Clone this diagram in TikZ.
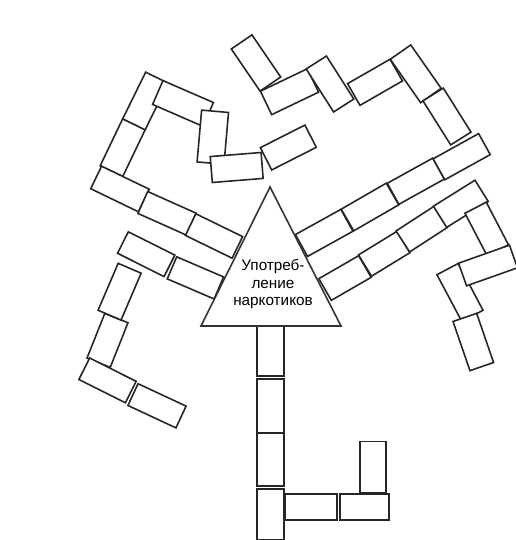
\documentclass[tikz,border=0pt]{standalone}
\usepackage{fontspec}
\newfontfamily\labelfont{Liberation Sans}
\tikzset{
  brick/.style={draw=black!85, fill=white, line width=0.9pt, inner sep=0pt},
  trunk/.style={brick, line width=1pt}
}

\begin{document}
\begin{tikzpicture}[x=0.02cm, y=-0.02cm]
  \useasboundingbox (0,0) rectangle (516,540);
  % left upper branch (name/x/y/angle/length/width, in px)
  \foreach \n/\x/\y/\a/\l/\w in {l0/122.7/147.7/64.4/52/25, l1/145.4/101/63.8/52/25,
                                 l2/183/103.5/-23.5/55/26, l3/212.8/137.2/85/52/27,
                                 l4/236.7/167.5/4.6/51/26, l5/288.3/147.5/26.9/50/25,
                                 u1/256/63/-55.7/51/25}
    \node[brick, rotate=\a, minimum width=\l*0.02cm, minimum height=\w*0.02cm] (\n) at (\x,\y) {};
  % top right chain
  \foreach \n/\x/\y/\a/\l/\w in {t2/289.5/91.7/25.6/52/26, t3/330/84/-57.5/51/24,
                                 t4/375/82.3/29.9/49/25, t5/415.7/73.8/-55/53/25,
                                 t6/447/116.5/-57.8/52/24}
    \node[brick, rotate=\a, minimum width=\l*0.02cm, minimum height=\w*0.02cm] (\n) at (\x,\y) {};
  % right rows
  \foreach \n/\x/\y/\a/\l/\w in {r1/324.2/232.9/29/52/25, r2/370/207/30/52/25,
                                 r3/415.8/181.2/29/52/24, r4/461.7/156.7/29/52/24,
                                 c1/345/278/30/46/25, c2/384.2/253.8/31.5/45/25,
                                 c3/421.7/229.2/33/45/25, c4/460.8/203.8/32/49/25,
                                 v1/486.7/229/-62.5/48/24, v2/460/292.5/-62/53/24,
                                 h1/488/265.5/19.5/54/24, v3/473.3/342/-71/52/25}
    \node[brick, rotate=\a, minimum width=\l*0.02cm, minimum height=\w*0.02cm] (\n) at (\x,\y) {};
  % left lower branch
  \foreach \n/\x/\y/\a/\l/\w in {p1/120/189/-25.8/53/25, p2/167/213.3/-24.1/53/24,
                                 p3/214/236/-26/52/24, q1/146.2/254.2/-26.6/52/24,
                                 q2/195.4/277.9/-23.2/51/24, vb/107.5/340.4/68.3/48/25,
                                 va/119.6/291.7/66.8/51/25, w1/107.5/380.4/-26.6/52/24,
                                 w2/157/405.8/-25/53/24}
    \node[brick, rotate=\a, minimum width=\l*0.02cm, minimum height=\w*0.02cm] (\n) at (\x,\y) {};
  % trunk
  \foreach \n/\x/\y/\a/\l in {k1/270.5/350.5/90/51, k2/270.5/406/90/54, k3/270.5/459.5/90/53,
                              k4/270.5/514.5/90/51, k5/373/467/90/51,
                              h2/311/507/0/52, h3/364.5/507/0/49}
    \node[trunk, rotate=\a, minimum width=\l*0.02cm, minimum height=0.53cm] (\n) at (\x,\y) {};

  \coordinate (apex) at (270,187);
  \coordinate (baseL) at (201,326);
  \coordinate (baseR) at (341,326);
  \draw[fill=white, line width=0.9pt, draw=black!80] (apex) -- (baseL) -- (baseR) -- cycle;
  \node[font=\labelfont\fontsize{8.7}{9.8}\selectfont, align=center] (label) at (273,284)
    {Употреб-\\ление\\наркотиков};
\end{tikzpicture}
\end{document}
